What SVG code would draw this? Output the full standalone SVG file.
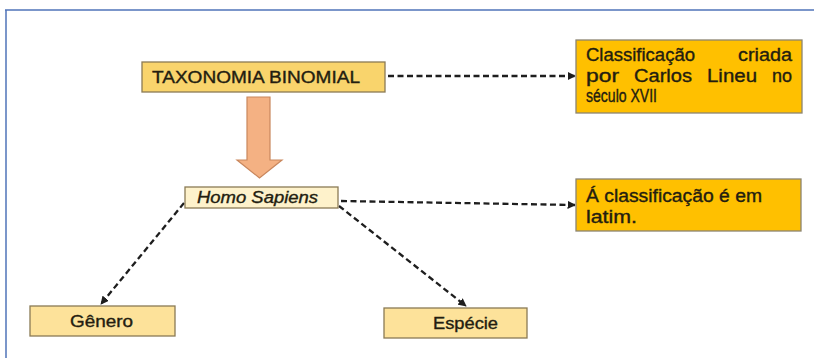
<svg xmlns="http://www.w3.org/2000/svg" width="814" height="358" viewBox="0 0 814 358">
<defs>
<style>
.t{font-family:"Liberation Sans","Arial",sans-serif;font-size:16px;fill:#231d10;stroke:#231d10;stroke-width:0.35}
.k{font-size:17.5px}
.b{stroke:#8a7a55;stroke-width:1.3}
.g{fill:#ffc000;stroke:#8c8470;stroke-width:1.3}
.c{fill:none;stroke:#1e1e1e;stroke-width:2.3;stroke-dasharray:6 3.5;marker-end:url(#ah)}
</style>
<marker id="ah" viewBox="0 0 10 10" refX="9" refY="5" markerWidth="3.6" markerHeight="3.6" orient="auto-start-reverse" markerUnits="strokeWidth">
<path d="M0,0 L10,5 L0,10 z" fill="#1e1e1e"/>
</marker>
</defs>
<rect width="814" height="358" fill="#ffffff"/>
<g id="frame" fill="none" stroke="#4f73b8" stroke-width="1.5">
<line x1="5" y1="10" x2="814" y2="10"/>
<line x1="6" y1="10" x2="6" y2="358"/>
</g>
<g id="connectors">
<line class="c" x1="388" y1="76" x2="575" y2="76"/>
<line class="c" x1="341" y1="201" x2="575" y2="205"/>
<line class="c" x1="184" y1="203" x2="101" y2="304"/>
<line class="c" x1="339" y1="206" x2="466" y2="306"/>
<path d="M247,97 H270 V160 H282 L259.5,178 L237,160 H247 Z" fill="#f4b183" stroke="#c9875d" stroke-width="1.2"/>
</g>
<g id="taxonomia">
<rect class="b" x="142" y="62" width="243" height="30" fill="#f9d46c"/>
<text class="t" x="152" y="83" font-size="15" textLength="208" lengthAdjust="spacingAndGlyphs">TAXONOMIA BINOMIAL</text>
</g>
<g id="homo">
<rect class="b" x="185" y="187" width="153" height="21" fill="#fef2cb"/>
<text class="t" x="197" y="203" font-style="italic" textLength="121" lengthAdjust="spacingAndGlyphs">Homo Sapiens</text>
</g>
<g id="classificacao">
<rect class="g" x="576" y="40" width="226" height="73"/>
<text class="t k" x="586" y="61" textLength="109" lengthAdjust="spacingAndGlyphs">Classificação</text>
<text class="t k" x="738" y="61" textLength="54" lengthAdjust="spacingAndGlyphs">criada</text>
<text class="t k" x="586" y="82" textLength="33" lengthAdjust="spacingAndGlyphs">por</text>
<text class="t k" x="634" y="82" textLength="58" lengthAdjust="spacingAndGlyphs">Carlos</text>
<text class="t k" x="707" y="82" textLength="50" lengthAdjust="spacingAndGlyphs">Lineu</text>
<text class="t k" x="772" y="82" textLength="20" lengthAdjust="spacingAndGlyphs">no</text>
<text class="t k" x="586" y="102" textLength="71" lengthAdjust="spacingAndGlyphs">século XVII</text>
</g>
<g id="latim">
<rect class="g" x="576" y="179" width="225" height="52"/>
<text class="t k" x="586" y="202" textLength="176" lengthAdjust="spacingAndGlyphs">Á classificação é em</text>
<text class="t k" x="586" y="223" textLength="51" lengthAdjust="spacingAndGlyphs">latim.</text>
</g>
<g id="genero">
<rect class="b" x="30" y="306" width="145" height="30" fill="#fde29a"/>
<text class="t" x="70" y="326.5" textLength="63" lengthAdjust="spacingAndGlyphs">Gênero</text>
</g>
<g id="especie">
<rect class="b" x="384" y="308" width="143" height="30" fill="#fde29a"/>
<text class="t" x="433" y="328.5" textLength="65" lengthAdjust="spacingAndGlyphs">Espécie</text>
</g>
</svg>
